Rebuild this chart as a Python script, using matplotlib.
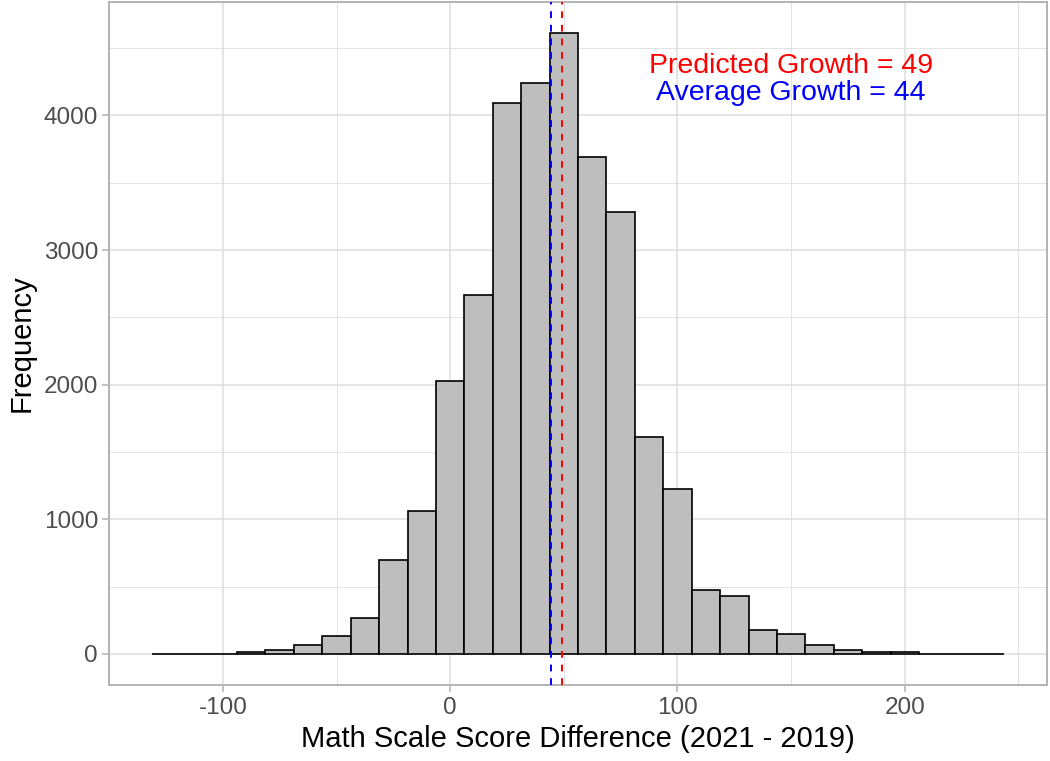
import numpy as np
import matplotlib
matplotlib.use("Agg")
import matplotlib.pyplot as plt

# ---- data ----
bin_edges = [-131.25 + 12.5 * i for i in range(31)]
counts = [2, 2, 3, 14, 32, 64, 136, 270, 699, 1058,
          2025, 2667, 4089, 4238, 4612, 3693, 3286, 1608, 1227, 477,
          431, 180, 151, 64, 29, 12, 12, 3, 2, 2]
average_growth = 44.4
predicted_growth = 49.0
avg_label = "Average Growth = 44"
pred_label = "Predicted Growth = 49"
x_ticks = [-100, 0, 100, 200]
y_ticks = [0, 1000, 2000, 3000, 4000]
x_label = "Math Scale Score Difference (2021 - 2019)"
y_label = "Frequency"

plt.rcParams['font.family'] = ['Liberation Sans', 'DejaVu Sans']
plt.rcParams['axes.unicode_minus'] = False

fig = plt.figure(figsize=(10.5, 7.61), dpi=100)
ax = fig.add_axes([0.1040, 0.0999, 0.997 - 0.1040, 0.9974 - 0.0999])

lefts = np.array(bin_edges[:-1])
widths = np.diff(bin_edges)
ax.bar(lefts, counts, width=widths, align='edge', color='#BEBEBE',
       edgecolor='black', linewidth=1.2, zorder=3)

ax.axvline(average_growth, color='blue', linestyle=(0, (3.5, 3.5)), linewidth=1.4, zorder=4)
ax.axvline(predicted_growth, color='red', linestyle=(0, (3.5, 3.5)), linewidth=1.4, zorder=4)

ax.text(150, 4365, pred_label, color='red', fontsize=20.5, ha='center', va='center', zorder=5)
ax.text(150, 4165, avg_label, color='blue', fontsize=20.5, ha='center', va='center', zorder=5)

xr = bin_edges[-1] - bin_edges[0]
ax.set_xlim(bin_edges[0] - 0.05 * xr, bin_edges[-1] + 0.05 * xr)
ymax = max(counts)
ax.set_ylim(-0.05 * ymax, ymax * 1.05)

ax.set_xticks(x_ticks)
ax.set_yticks(y_ticks)
ax.set_xticks([-150, -50, 50, 150, 250], minor=True)
ax.set_yticks([500, 1500, 2500, 3500, 4500], minor=True)

ax.grid(which='major', color='#DEDEDE', linewidth=1.1, zorder=0)
ax.grid(which='minor', color='#DEDEDE', linewidth=0.6, zorder=0)
ax.set_axisbelow(True)

for s in ax.spines.values():
    s.set_color('#B3B3B3')
    s.set_linewidth(1.4)

ax.tick_params(axis='both', which='major', colors='#B3B3B3', labelcolor='#4D4D4D',
               labelsize=17.5, length=5, width=1.1)
ax.tick_params(axis='both', which='minor', length=0)
ax.tick_params(axis='x', pad=4)
ax.tick_params(axis='y', pad=3)

ax.set_xlabel(x_label, fontsize=21, color='black', labelpad=4)
ax.set_ylabel(y_label, fontsize=21, color='black', labelpad=6)

fig.savefig('out.png', dpi=100)
